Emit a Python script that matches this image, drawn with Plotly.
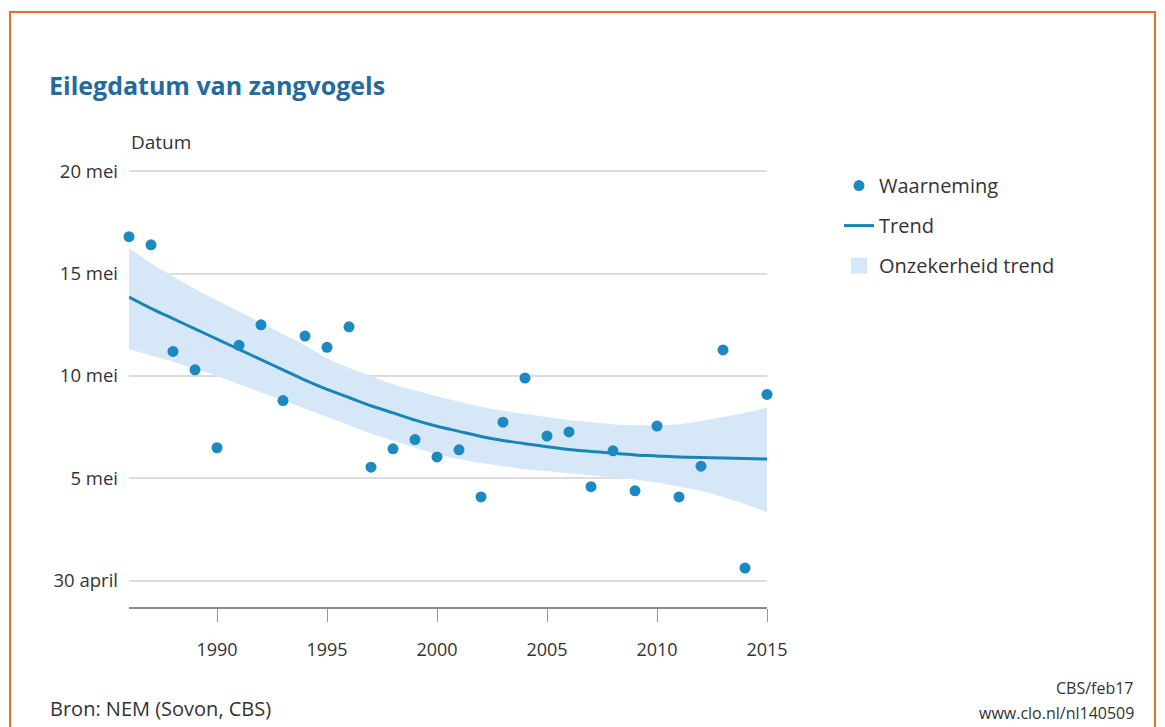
import plotly.graph_objects as go

years = list(range(1986, 2016))
# observed egg-laying date, in days after 30 April (0 = 30 april, 5 = 5 mei ...)
waarneming = [16.8, 16.4, 11.2, 10.3, 6.5, 11.5, 12.5, 8.8, 11.95, 11.4,
              12.4, 5.55, 6.45, 6.9, 6.05, 6.4, 4.1, 7.75, 9.9, 7.07,
              7.27, 4.6, 6.35, 4.4, 7.56, 4.1, 5.6, 11.27, 0.63, 9.1]
trend = [13.85, 13.3, 12.8, 12.3, 11.8, 11.3, 10.8, 10.3, 9.8, 9.35,
         8.95, 8.55, 8.2, 7.85, 7.55, 7.3, 7.05, 6.85, 6.7, 6.55,
         6.42, 6.32, 6.23, 6.15, 6.1, 6.05, 6.02, 6.0, 5.97, 5.95]
trend_low = [11.3, 11.0, 10.7, 10.35, 10.0, 9.6, 9.2, 8.8, 8.4, 8.0,
             7.6, 7.2, 6.85, 6.5, 6.2, 5.95, 5.75, 5.6, 5.45, 5.35,
             5.25, 5.15, 5.05, 4.95, 4.8, 4.6, 4.4, 4.1, 3.75, 3.35]
trend_high = [16.25, 15.5, 14.85, 14.25, 13.7, 13.15, 12.6, 12.05, 11.5, 10.85,
              10.4, 10.0, 9.6, 9.3, 9.0, 8.75, 8.5, 8.3, 8.15, 8.0,
              7.85, 7.75, 7.65, 7.6, 7.6, 7.65, 7.8, 8.0, 8.2, 8.45]
y_tickvals = [0, 5, 10, 15, 20]
y_ticktext = ["30 april", "5 mei", "10 mei", "15 mei", "20 mei"]
x_tickvals = [1990, 1995, 2000, 2005, 2010, 2015]

FONT = "Open Sans"
TXT = "#333333"
BLUE = "#1c8ac0"
BAND = "#d6e8f7"

fig = go.Figure()
fig.add_trace(go.Scatter(x=years, y=trend_low, mode="lines", line=dict(width=0, shape="spline"),
                         showlegend=False, hoverinfo="skip"))
fig.add_trace(go.Scatter(x=years, y=trend_high, mode="lines", line=dict(width=0, shape="spline"),
                         fill="tonexty", fillcolor=BAND, showlegend=False,
                         name="Onzekerheid trend", legendgroup="c"))
# legend entry for the uncertainty band (square swatch)
fig.add_trace(go.Scatter(x=[None], y=[None], mode="markers",
                         marker=dict(symbol="square", color=BAND, size=22),
                         name="Onzekerheid trend", legendrank=3, legendgroup="c"))
fig.add_trace(go.Scatter(x=years, y=trend, mode="lines", line=dict(color="#1a84b6", width=3, shape="spline"),
                         name="Trend", legendrank=2, legendgroup="b"))
fig.add_trace(go.Scatter(x=years, y=waarneming, mode="markers",
                         marker=dict(color=BLUE, size=11), name="Waarneming",
                         legendrank=1, legendgroup="a", cliponaxis=False))

OFF = 8  # page body margin
W, H = 1165 - OFF, 727 - OFF
YMIN, YMAX = -1.27, 20.1
PXDAY = 20.5
L, R = 129 - OFF, 767 - OFF
B = 607 - OFF
T = B - (YMAX - YMIN) * PXDAY


def px(x):
    return (x - OFF - L) / (R - L)


def py(y):
    return (B - (y - OFF)) / (B - T)


fig.update_layout(
    width=W, height=H,
    margin=dict(l=L, r=W - R, t=T, b=H - B, autoexpand=False),
    paper_bgcolor="white", plot_bgcolor="white",
    font=dict(family=FONT, size=18, color=TXT),
    showlegend=True,
    legend=dict(x=px(839), y=py(166), xanchor="left", yanchor="top",
                font=dict(size=20, color=TXT), tracegroupgap=11,
                itemwidth=30, itemsizing="trace", bgcolor="rgba(0,0,0,0)"),
    xaxis=dict(range=[1986, 2015], tickvals=x_tickvals, showgrid=False,
               showline=True, linecolor="#8a8a8a", linewidth=2,
               ticks="outside", ticklen=13, tickcolor="#9a9a9a", tickwidth=1,
               ticklabelstandoff=12, zeroline=False,
               tickfont=dict(size=18, color=TXT)),
    yaxis=dict(range=[YMIN, YMAX], tickvals=y_tickvals, ticktext=y_ticktext,
               showgrid=True, gridcolor="#dcdcdc", gridwidth=1.5,
               zeroline=False, showline=False, ticks="", ticklabelstandoff=10,
               tickfont=dict(size=18.5, color=TXT)),
    shapes=[dict(type="rect", xref="paper", yref="paper",
                 x0=px(10), x1=px(1155), y0=py(760), y1=py(12),
                 line=dict(color="#e8702a", width=2), fillcolor="rgba(0,0,0,0)", layer="below")],
    annotations=[
        dict(text="<b>Eilegdatum van zangvogels</b>", xref="paper", yref="paper",
             x=px(47), y=py(85), xanchor="left", yanchor="middle", showarrow=False,
             font=dict(size=25, color="#236b9c", family=FONT)),
        dict(text="Datum", xref="paper", yref="paper", x=px(129), y=py(142),
             xanchor="left", yanchor="middle", showarrow=False, font=dict(size=19, color=TXT)),
        dict(text="Bron: NEM (Sovon, CBS)", xref="paper", yref="paper", x=px(48), y=py(709),
             xanchor="left", yanchor="middle", showarrow=False, font=dict(size=20, color=TXT)),
        dict(text="CBS/feb17", xref="paper", yref="paper", x=px(1136), y=py(688),
             xanchor="right", yanchor="middle", showarrow=False, font=dict(size=16, color=TXT)),
        dict(text="www.clo.nl/nl140509", xref="paper", yref="paper", x=px(1136), y=py(713),
             xanchor="right", yanchor="middle", showarrow=False, font=dict(size=16, color=TXT)),
    ],
)

fig.write_html("out.html")
